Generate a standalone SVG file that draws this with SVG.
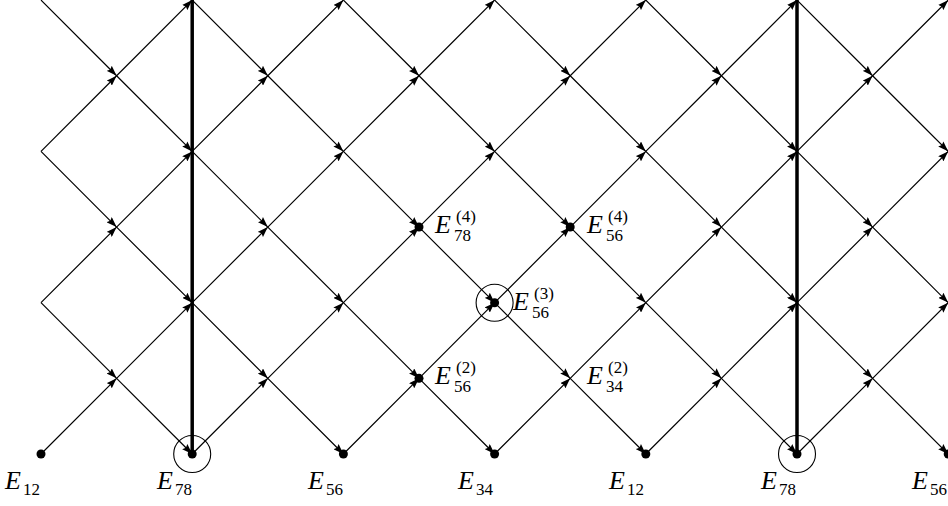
<svg xmlns="http://www.w3.org/2000/svg" width="948" height="506" viewBox="0 0 948 506">
<style>
.ln{fill:none;stroke:#000;stroke-width:1.2;marker-mid:url(#ah);marker-end:url(#ah)}
.thick{stroke:#000;stroke-width:3.5}
.ring{fill:none;stroke:#000;stroke-width:1.1}
.dot{fill:#000}
.lb{font-family:"Liberation Serif","Times New Roman",serif;font-size:26px;font-style:italic;fill:#000}
.s{font-family:"Liberation Serif","Times New Roman",serif;font-size:17px;font-style:normal}
</style>
<defs>
<marker id="ah" viewBox="0 0 10 7" refX="10" refY="3.5" markerWidth="10.5" markerHeight="7.5" markerUnits="userSpaceOnUse" orient="auto">
<path d="M0,0 L10,3.5 L0,7 L1.5,3.5 z" fill="#000"/>
</marker>
</defs>
<g id="connectors">
<polyline class="ln" points="41,454 116.6,378.35 192.2,302.7 267.8,227.05 343.4,151.4 419,75.75 494.6,0.1"/>
<polyline class="ln" points="41,302.7 116.6,227.05 192.2,151.4 267.8,75.75 343.4,0.1"/>
<polyline class="ln" points="41,151.4 116.6,75.75 192.2,0.1"/>
<polyline class="ln" points="192.2,454 267.8,378.35 343.4,302.7 419,227.05 494.6,151.4 570.2,75.75 645.8,0.1"/>
<polyline class="ln" points="343.4,454 419,378.35 494.6,302.7 570.2,227.05 645.8,151.4 721.4,75.75 797,0.1"/>
<polyline class="ln" points="494.6,454 570.2,378.35 645.8,302.7 721.4,227.05 797,151.4 872.6,75.75 948.2,0.1"/>
<polyline class="ln" points="645.8,454 721.4,378.35 797,302.7 872.6,227.05 948.2,151.4"/>
<polyline class="ln" points="797,454 872.6,378.35 948.2,302.7"/>
<polyline class="ln" points="41,302.7 116.6,378.35 192.2,454"/>
<polyline class="ln" points="41,151.4 116.6,227.05 192.2,302.7 267.8,378.35 343.4,454"/>
<polyline class="ln" points="41,0.1 116.6,75.75 192.2,151.4 267.8,227.05 343.4,302.7 419,378.35 494.6,454"/>
<polyline class="ln" points="192.2,0.1 267.8,75.75 343.4,151.4 419,227.05 494.6,302.7 570.2,378.35 645.8,454"/>
<polyline class="ln" points="343.4,0.1 419,75.75 494.6,151.4 570.2,227.05 645.8,302.7 721.4,378.35 797,454"/>
<polyline class="ln" points="494.6,0.1 570.2,75.75 645.8,151.4 721.4,227.05 797,302.7 872.6,378.35 948.2,454"/>
<polyline class="ln" points="645.8,0.1 721.4,75.75 797,151.4 872.6,227.05 948.2,302.7"/>
<polyline class="ln" points="797,0.1 872.6,75.75 948.2,151.4"/>
<line class="thick" x1="192.2" y1="0" x2="192.2" y2="454"/>
<line class="thick" x1="797" y1="0" x2="797" y2="454"/>
</g>
<g id="n-E12a"><circle class="dot" cx="41" cy="454" r="4.5"/><text class="lb" x="5" y="489">E<tspan class="s" x="23" y="495">12</tspan></text></g>
<g id="n-E78a"><circle class="ring" cx="192.2" cy="454" r="18.5"/><circle class="dot" cx="192.2" cy="454" r="4.5"/><text class="lb" x="157" y="489">E<tspan class="s" x="175" y="495">78</tspan></text></g>
<g id="n-E56a"><circle class="dot" cx="343.4" cy="454" r="4.5"/><text class="lb" x="308" y="489">E<tspan class="s" x="326" y="495">56</tspan></text></g>
<g id="n-E34"><circle class="dot" cx="494.6" cy="454" r="4.5"/><text class="lb" x="458" y="489">E<tspan class="s" x="476" y="495">34</tspan></text></g>
<g id="n-E12b"><circle class="dot" cx="645.8" cy="454" r="4.5"/><text class="lb" x="609" y="489">E<tspan class="s" x="627" y="495">12</tspan></text></g>
<g id="n-E78b"><circle class="ring" cx="797" cy="454" r="18.5"/><circle class="dot" cx="797" cy="454" r="4.5"/><text class="lb" x="761" y="489">E<tspan class="s" x="779" y="495">78</tspan></text></g>
<g id="n-E56b"><circle class="dot" cx="948.2" cy="454" r="4.5"/><text class="lb" x="912" y="489">E<tspan class="s" x="930" y="495">56</tspan></text></g>
<g id="n-E78-4"><circle class="dot" cx="419" cy="227.05" r="4.5"/><text class="lb" x="435" y="233">E<tspan class="s" x="456" y="222">(4)</tspan><tspan class="s" x="454" y="241">78</tspan></text></g>
<g id="n-E56-4"><circle class="dot" cx="570.2" cy="227.05" r="4.5"/><text class="lb" x="587" y="233">E<tspan class="s" x="608" y="222">(4)</tspan><tspan class="s" x="606" y="241">56</tspan></text></g>
<g id="n-E56-3"><circle class="ring" cx="494.6" cy="302.7" r="18.5"/><circle class="dot" cx="494.6" cy="302.7" r="4.5"/><text class="lb" x="513" y="310">E<tspan class="s" x="534" y="299">(3)</tspan><tspan class="s" x="532" y="318">56</tspan></text></g>
<g id="n-E56-2"><circle class="dot" cx="419" cy="378.35" r="4.5"/><text class="lb" x="435" y="384">E<tspan class="s" x="456" y="373">(2)</tspan><tspan class="s" x="454" y="392">56</tspan></text></g>
<g id="n-E34-2"><text class="lb" x="587" y="384">E<tspan class="s" x="608" y="373">(2)</tspan><tspan class="s" x="606" y="392">34</tspan></text></g>
</svg>
